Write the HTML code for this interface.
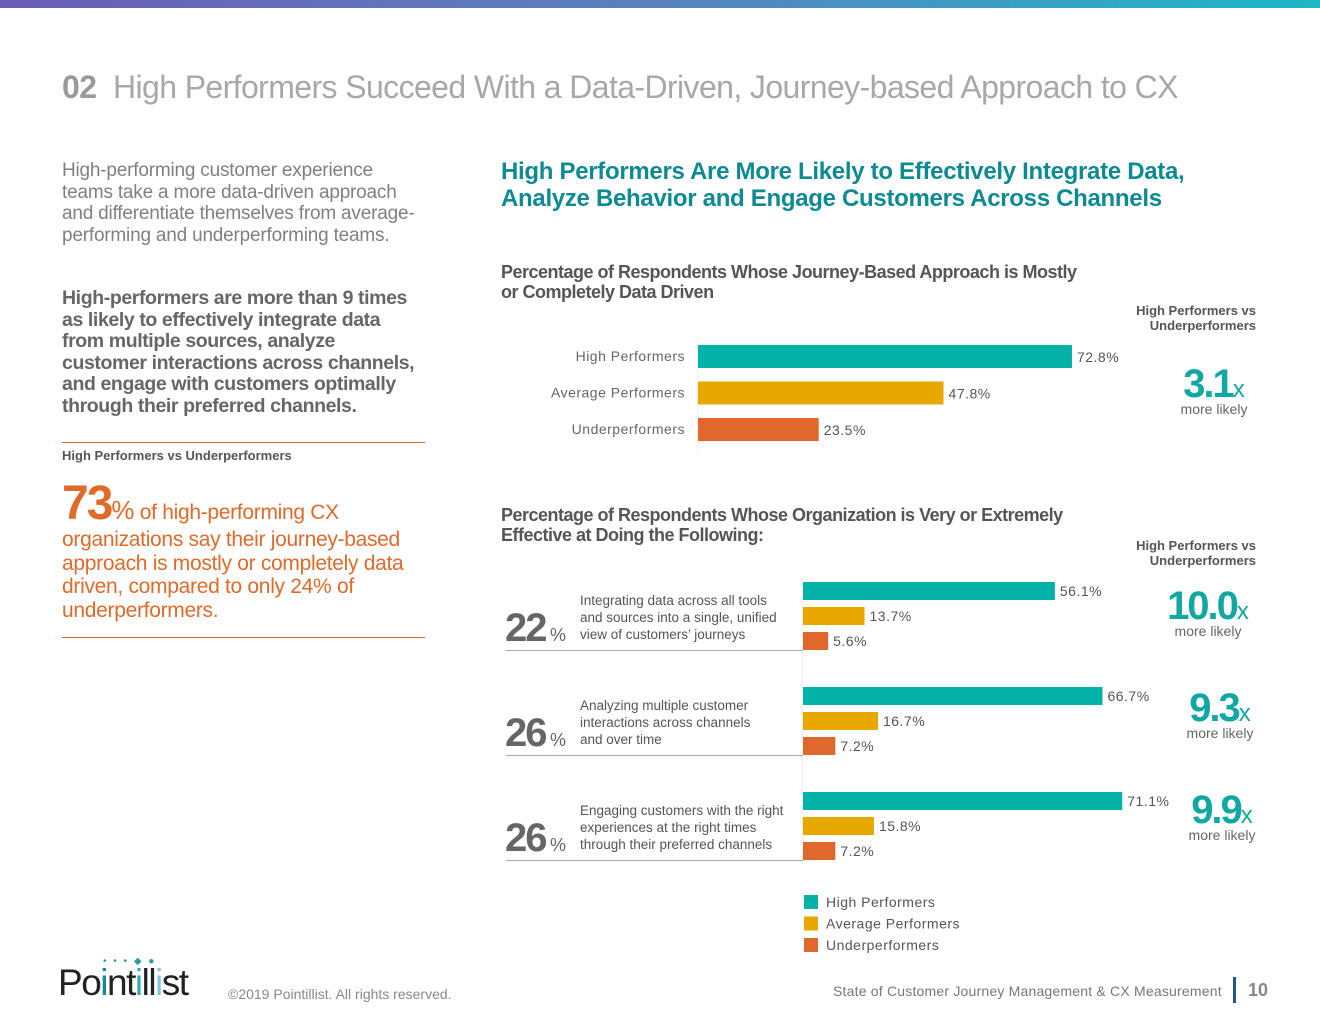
<!DOCTYPE html>
<html><head><meta charset="utf-8">
<style>
body{margin:0;width:1320px;height:1020px;background:#fff;position:relative;overflow:hidden;font-family:"Liberation Sans",sans-serif;}
.a{position:absolute;}
.topbar{left:0;top:0;width:1320px;height:8px;background:linear-gradient(90deg,#6b5db6,#5a82bf 50%,#1cb8c6);}
.teal{color:#0b9c97}
.org{color:#e06a2a}
.gray{color:#666}
.big{font-weight:bold;letter-spacing:-2px}
</style></head><body>
<div class="a topbar"></div>
<div class="a" style="left:62px;top:69px;font-size:32px;color:#a8a8a8;white-space:nowrap;letter-spacing:-0.6px;"><b style="color:#9a9a9a">02</b>&nbsp; High Performers Succeed With a Data-Driven, Journey-based Approach to CX</div>

<div class="a gray" style="left:62px;top:160px;width:365px;font-size:19px;line-height:21.7px;color:#808080;letter-spacing:-0.2px">High-performing customer experience teams take a more data-driven approach and differentiate themselves from average-performing and underperforming teams.</div>
<div class="a" style="left:62px;top:288px;width:360px;font-size:19.5px;line-height:21.6px;font-weight:bold;color:#666;letter-spacing:-0.4px">High-performers are more than 9 times as likely to effectively integrate data from multiple sources, analyze customer interactions across channels, and engage with customers optimally through their preferred channels.</div>
<div class="a" style="left:62px;top:442px;width:363px;border-top:1px solid #e06a2a"></div>
<div class="a" style="left:62px;top:448px;font-size:13px;font-weight:bold;color:#555;">High Performers vs Underperformers</div>
<div class="a org" style="left:62px;top:480px;width:355px;font-size:21px;line-height:23.5px;letter-spacing:-0.3px"><span style="font-size:48px;font-weight:bold;letter-spacing:-2px;line-height:48px">73</span><span style="font-size:26px">%</span> of high-performing CX organizations say their journey-based approach is mostly or completely data driven, compared to only 24% of underperformers.</div>
<div class="a" style="left:62px;top:637px;width:363px;border-top:1px solid #e06a2a"></div>

<div class="a teal" style="left:501px;top:158px;font-size:24px;line-height:27px;font-weight:bold;color:#0e8a93;letter-spacing:-0.3px">High Performers Are More Likely to Effectively Integrate Data,<br>Analyze Behavior and Engage Customers Across Channels</div>
<div class="a" style="left:501px;top:262px;font-size:18px;line-height:20px;color:#555;font-weight:bold;letter-spacing:-0.5px">Percentage of Respondents Whose Journey-Based Approach is Mostly<br>or Completely Data Driven</div>
<div class="a" style="left:501px;top:505px;font-size:18px;line-height:20px;color:#555;font-weight:bold;letter-spacing:-0.5px">Percentage of Respondents Whose Organization is Very or Extremely<br>Effective at Doing the Following:</div>

<div class="a" style="left:1100px;top:303px;width:156px;text-align:right;font-size:13px;line-height:15px;font-weight:bold;color:#555">High Performers vs<br>Underperformers</div>
<div class="a" style="left:1100px;top:538px;width:156px;text-align:right;font-size:13px;line-height:15px;font-weight:bold;color:#555">High Performers vs<br>Underperformers</div>

<div class="a" style="left:1164px;top:362px;width:100px;text-align:center;"><span class="big" style="font-size:40px;color:#11a8a3">3.1</span><span style="font-size:24px;color:#11a8a3">x</span><div style="font-size:14px;color:#666;margin-top:-6px">more likely</div></div>
<div class="a" style="left:1158px;top:584px;width:100px;text-align:center;"><span class="big" style="font-size:40px;color:#11a8a3">10.0</span><span style="font-size:24px;color:#11a8a3">x</span><div style="font-size:14px;color:#666;margin-top:-6px">more likely</div></div>
<div class="a" style="left:1170px;top:686px;width:100px;text-align:center;"><span class="big" style="font-size:40px;color:#11a8a3">9.3</span><span style="font-size:24px;color:#11a8a3">x</span><div style="font-size:14px;color:#666;margin-top:-6px">more likely</div></div>
<div class="a" style="left:1172px;top:788px;width:100px;text-align:center;"><span class="big" style="font-size:40px;color:#11a8a3">9.9</span><span style="font-size:24px;color:#11a8a3">x</span><div style="font-size:14px;color:#666;margin-top:-6px">more likely</div></div>

<svg class="a" style="left:0;top:0" width="1320" height="1020" id="chart"></svg>

<div class="a" style="left:58px;top:962px;font-size:37px;letter-spacing:-1.5px;color:#222;">P<span>o</span><span style="color:#0e8a93">i</span>nt<span style="color:#3aa">i</span>ll<span style="color:#7cc8d8">i</span>st</div>
<div class="a" style="left:103px;top:956px;font-size:10px;color:#2a9d9a;letter-spacing:2px">• • • ◆ ●</div>
<div class="a" style="left:228px;top:986px;font-size:14px;color:#888">©2019 Pointillist. All rights reserved.</div>
<div class="a" style="left:833px;top:983px;font-size:14px;color:#777;letter-spacing:0.2px">State of Customer Journey Management &amp; CX Measurement</div>
<div class="a" style="left:1233px;top:977px;width:3px;height:26px;background:#1a5a8a"></div>
<div class="a" style="left:1248px;top:980px;font-size:18px;font-weight:bold;color:#888">10</div>

<script>
const colors=['#05b2a7','#e8a800','#e0672e'];
const c1Labels=['High Performers','Average Performers','Underperformers'];
const c1Values=[72.8,47.8,23.5];
const c2Categories=['Integrating data across all tools|and sources into a single, unified|view of  customers’ journeys','Analyzing multiple customer|interactions across channels|and over time','Engaging customers with the right|experiences at the right times|through their preferred channels'];
const c2Pct=['22','26','26'];
const c2High=[56.1,66.7,71.1];
const c2Avg=[13.7,16.7,15.8];
const c2Under=[5.6,7.2,7.2];
const svg=document.getElementById('chart');
const NS='http://www.w3.org/2000/svg';
function mk(t,a,txt){const e=document.createElementNS(NS,t);for(const k in a)e.setAttribute(k,a[k]);if(txt!==undefined)e.textContent=txt;svg.appendChild(e);return e;}
const x1=v=>698+v*5.137;
const x2=v=>803+v*4.49;
let ax=mk('line',{x1:697.5,y1:338,x2:697.5,y2:450,stroke:'#eee'});


c1Values.forEach((v,i)=>{
  const y=345+i*36.5;
  let r=mk('rect',{x:698,y:y,width:x1(v)-698,height:23,fill:colors[i]});
  
  
  let l=mk('text',{x:685,y:y+16,'text-anchor':'end','font-size':14,fill:'#666','letter-spacing':'0.5'},c1Labels[i]);
  
  
  let t=mk('text',{x:x1(v)+5,y:y+17,'font-size':14,fill:'#555','letter-spacing':'0.5'},v.toFixed(1)+'%');
  
  
});
let ax2=mk('line',{x1:802.5,y1:575,x2:802.5,y2:865,stroke:'#eee'});


c2Categories.forEach((cat,g)=>{
  const y0=582+g*105;
  [c2High[g],c2Avg[g],c2Under[g]].forEach((v,i)=>{
    const y=y0+i*25;
    let r=mk('rect',{x:803,y:y,width:x2(v)-803,height:18,fill:colors[i]});
    
    
    let t=mk('text',{x:x2(v)+5,y:y+14,'font-size':14,fill:'#555','letter-spacing':'0.5'},v.toFixed(1)+'%');
    
    
  });
  cat.split('|').forEach((ln,k)=>{
    let t=mk('text',{x:580,y:y0+23+k*17,'font-size':13.5,fill:'#555'},ln);
    
    
  });
  let p=mk('text',{x:505,y:y0+59,'font-size':40,'font-weight':'bold',fill:'#666','letter-spacing':'-2'},c2Pct[g]);
  
  
  let ps=mk('text',{x:550,y:y0+59,'font-size':18,fill:'#666'},'%');
  
  
  let ln=mk('line',{x1:506,y1:y0+68.5,x2:803,y2:y0+68.5,stroke:'#aaa'});
  
  
});
c1Labels.forEach((lab,i)=>{
  const y=895+i*21.5;
  let r=mk('rect',{x:804,y:y,width:14,height:14,fill:colors[i]});
  
  
  let t=mk('text',{x:826,y:y+12,'font-size':14,fill:'#555','letter-spacing':'0.5'},lab);
  
  
});
</script>
</body></html>
